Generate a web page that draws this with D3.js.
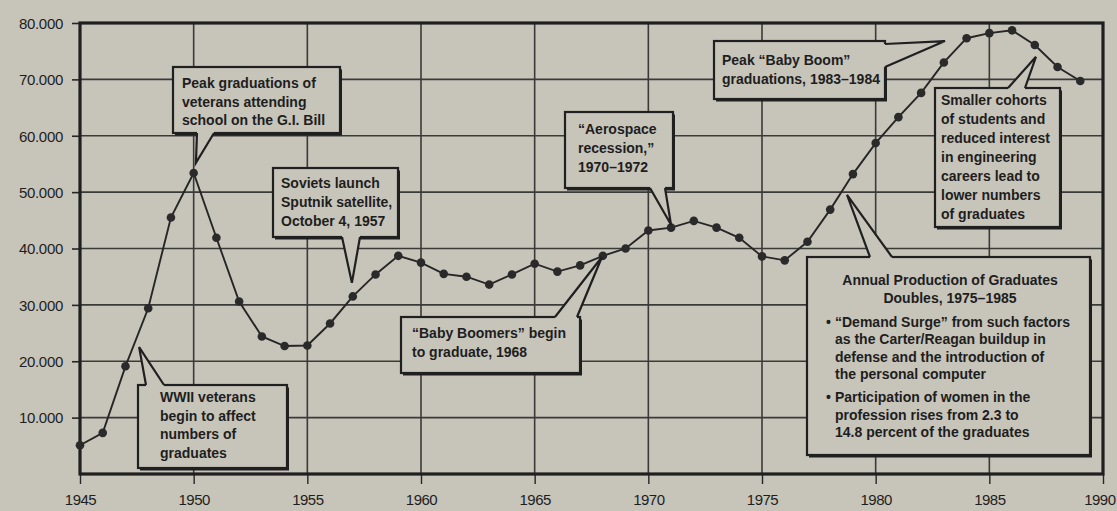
<!DOCTYPE html>
<html>
<head>
<meta charset="utf-8">
<script src="https://cdn.jsdelivr.net/npm/d3@7"></script>
<style>
  html, body { margin: 0; padding: 0; background: #c7c4ba; }
  svg { display: block; }
  text { font-family: "Liberation Sans", Arial, sans-serif; fill: #1e1e1e; }
</style>
</head>
<body>
<svg id="chart" width="1117" height="511"></svg>
<script>
// ---- data ----
const years = [1945,1946,1947,1948,1949,1950,1951,1952,1953,1954,1955,1956,1957,1958,1959,
  1960,1961,1962,1963,1964,1965,1966,1967,1968,1969,1970,1971,1972,1973,1974,1975,1976,1977,
  1978,1979,1980,1981,1982,1983,1984,1985,1986,1987,1988,1989];
const graduates = [5100,7300,19100,29400,45500,53400,41900,30600,24400,22700,22800,26700,31500,
  35400,38700,37500,35500,35000,33600,35400,37300,35900,37000,38700,40000,43200,43700,44900,
  43700,41900,38600,37900,41200,46900,53200,58700,63300,67600,73000,77300,78200,78700,76100,
  72200,69700];
const xTicks = [1945,1950,1955,1960,1965,1970,1975,1980,1985,1990];
const yTicks = [10000,20000,30000,40000,50000,60000,70000,80000];
const xTickLabels = ["1945","1950","1955","1960","1965","1970","1975","1980","1985","1990"];
const yTickLabels = ["10.000","20.000","30.000","40.000","50.000","60.000","70.000","80.000"];

// annotation texts and the data point each callout points at
const noteTexts = [
  ["Peak graduations of", "veterans attending", "school on the G.I. Bill"],
  ["Soviets launch", "Sputnik satellite,", "October 4, 1957"],
  ["\u201CAerospace", "recession,\u201D", "1970\u20131972"],
  ["\u201CBaby Boomers\u201D begin", "to graduate, 1968"],
  ["Peak \u201CBaby Boom\u201D", "graduations, 1983\u20131984"],
  ["Smaller cohorts", "of students and", "reduced interest", "in engineering", "careers lead to", "lower numbers", "of graduates"],
  ["Annual Production of Graduates", "Doubles, 1975\u20131985"],
  ["WWII veterans", "begin to affect", "numbers of", "graduates"]
];
const noteTipYears  = [1950.1, 1956.96, 1971.0, 1967.96, 1983.05, 1987.05, 1978.74, 1947.6];
const noteTipValues = [55200, 33900, 44200, 38500, 76800, 74000, 49500, 22500];
const bulletTexts = [
  ["\u201CDemand Surge\u201D from such factors", "as the Carter/Reagan buildup in", "defense and the introduction of", "the personal computer"],
  ["Participation of women in the", "profession rises from 2.3 to", "14.8 percent of the graduates"]
];

// ---- layout ----
const W = 1117, H = 511;
const M = {left: 80, right: 1103, top: 23, bottom: 474};
const ink = "#262626";
const bg = "#c7c4ba";

const svg = d3.select("#chart");
const x = d3.scaleLinear().domain([1945, 1990]).range([M.left, M.right]);
const y = d3.scaleLinear().domain([0, 80000]).range([M.bottom, M.top]);

svg.append("rect").attr("width", W).attr("height", H).attr("fill", bg);

// grid
const g = svg.append("g");
g.selectAll("line.h").data(yTicks.slice(0, -1)).join("line")
  .attr("x1", M.left).attr("x2", M.right)
  .attr("y1", d => y(d)).attr("y2", d => y(d))
  .attr("stroke", "#3a3a38").attr("stroke-width", 1.6);
g.selectAll("line.v").data(xTicks.slice(1, -1)).join("line")
  .attr("y1", M.top).attr("y2", M.bottom)
  .attr("x1", d => x(d)).attr("x2", d => x(d))
  .attr("stroke", "#3a3a38").attr("stroke-width", 1.6);

// axes (ticks + labels)
const yAxis = d3.axisLeft(y).tickValues(yTicks).tickSize(8)
  .tickFormat((d, i) => yTickLabels[i]);
const ya = svg.append("g").attr("transform", `translate(${M.left},0)`).call(yAxis);
ya.select(".domain").remove();
ya.selectAll(".tick line").attr("stroke", ink).attr("stroke-width", 1.6);
ya.selectAll(".tick text").attr("x", -17).attr("dy", "0.35em")
  .style("font-size", "15px").style("font-family", "Liberation Sans, Arial, sans-serif")
  .attr("fill", ink).style("letter-spacing", "-0.3px");

const xAxis = d3.axisBottom(x).tickValues(xTicks).tickSize(10)
  .tickFormat((d, i) => xTickLabels[i]);
const xa = svg.append("g").attr("transform", `translate(0,${M.bottom})`).call(xAxis);
xa.select(".domain").remove();
xa.selectAll(".tick line").attr("stroke", ink).attr("stroke-width", 1.4);
xa.selectAll(".tick text").attr("y", 20).attr("dy", "0.71em")
  .style("font-size", "15px").style("font-family", "Liberation Sans, Arial, sans-serif")
  .attr("fill", ink).style("letter-spacing", "-0.5px");
// keep the last year label inside the page
xa.selectAll(".tick text").filter((d, i) => i === xTicks.length - 1)
  .attr("text-anchor", "end").attr("x", W - 2 - x(1990));

// frame
svg.append("rect").attr("x", M.left).attr("y", M.top)
  .attr("width", M.right - M.left).attr("height", M.bottom - M.top)
  .attr("fill", "none").attr("stroke", "#1f1f1f").attr("stroke-width", 3.2);

// series
const pts = years.map((yr, i) => [yr, graduates[i]]);
svg.append("path").datum(pts)
  .attr("d", d3.line().x(d => x(d[0])).y(d => y(d[1])))
  .attr("fill", "none").attr("stroke", ink).attr("stroke-width", 1.9);
svg.selectAll("circle.pt").data(pts).join("circle")
  .attr("cx", d => x(d[0])).attr("cy", d => y(d[1])).attr("r", 4.3)
  .attr("fill", "#2a2a2a");

// callouts: box geometry and pointer base on one side
const boxes = [
  {x: 173, y: 67,  w: 167, h: 66,  side: "bottom", b: [197, 214], tx: 182, ty: 88,  lh: 18.5},
  {x: 273, y: 168, w: 125, h: 69,  side: "bottom", b: [342, 360], tx: 281, ty: 188, lh: 19},
  {x: 565, y: 112, w: 108, h: 76,  side: "bottom", b: [650, 665], tx: 578, ty: 134, lh: 19},
  {x: 401, y: 317, w: 179, h: 56,  side: "top",    b: [555, 577], tx: 412, ty: 338, lh: 19},
  {x: 714, y: 41,  w: 171, h: 58,  side: "right",  b: [44, 67],   tx: 722, ty: 65,  lh: 19},
  {x: 935, y: 88,  w: 125, h: 139, side: "top",    b: [1008, 1025], tx: 941, ty: 105, lh: 19},
  {x: 807, y: 257, w: 283, h: 198, side: "top",    b: [870, 892], tx: 950, ty: 285, lh: 18, center: true},
  {x: 138, y: 385, w: 149, h: 83,  side: "top",    b: [146, 164], tx: 160, ty: 402, lh: 18.7}
];

const fs = "14px";
const cg = svg.append("g");
boxes.forEach((bx, i) => {
  const tip = [x(noteTipYears[i]), y(noteTipValues[i])];
  let p1, p2, q1, q2;
  if (bx.side === "bottom") {
    p1 = [bx.b[0], bx.y + bx.h]; p2 = [bx.b[1], bx.y + bx.h];
    q1 = [p1[0], p1[1] - 3]; q2 = [p2[0], p2[1] - 3];
  } else if (bx.side === "top") {
    p1 = [bx.b[0], bx.y]; p2 = [bx.b[1], bx.y];
    q1 = [p1[0], p1[1] + 3]; q2 = [p2[0], p2[1] + 3];
  } else {
    p1 = [bx.x + bx.w, bx.b[0]]; p2 = [bx.x + bx.w, bx.b[1]];
    q1 = [p1[0] - 3, p1[1]]; q2 = [p2[0] - 3, p2[1]];
  }
  const gg = cg.append("g");
  // shadow
  gg.append("rect").attr("x", bx.x + 2).attr("y", bx.y + 2.5)
    .attr("width", bx.w).attr("height", bx.h).attr("fill", "#202020");
  gg.append("rect").attr("x", bx.x).attr("y", bx.y)
    .attr("width", bx.w).attr("height", bx.h)
    .attr("fill", bg).attr("stroke", "#202020").attr("stroke-width", 2.2);
  // pointer
  gg.append("path").attr("d", d3.line()([q1, p1, tip, p2, q2]))
    .attr("fill", bg).attr("stroke", "none");
  gg.append("path").attr("d", d3.line()([p1, tip, p2]))
    .attr("fill", "none").attr("stroke", "#202020").attr("stroke-width", 2.2)
    .attr("stroke-linejoin", "miter");
  // text
  const t = gg.append("text").style("font-size", fs).style("font-weight", "bold");
  noteTexts[i].forEach((line, k) => {
    t.append("tspan").attr("x", bx.tx).attr("y", bx.ty + k * bx.lh)
      .attr("text-anchor", bx.center ? "middle" : "start").text(line);
  });
  if (bx.center) {
    let yy = bx.ty + noteTexts[i].length * bx.lh + 6;
    bulletTexts.forEach(bl => {
      gg.append("text").attr("x", 826).attr("y", yy).style("font-size", fs)
        .style("font-weight", "bold").text("\u2022");
      bl.forEach((line, k) => {
        gg.append("text").attr("x", 835).attr("y", yy + k * 17.3)
          .style("font-size", fs).style("font-weight", "bold").text(line);
      });
      yy += bl.length * 17.3 + 6;
    });
  }
});
</script>
</body>
</html>
